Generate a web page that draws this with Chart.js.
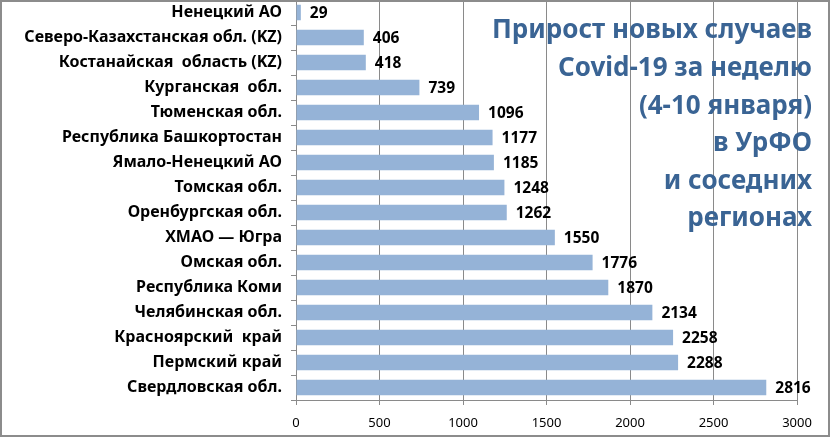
<!DOCTYPE html>
<html><head><meta charset="utf-8">
<script src="https://cdn.jsdelivr.net/npm/chart.js@4/dist/chart.umd.min.js"></script>
<style>html,body{margin:0;padding:0;background:#fff}#wrap{width:830px;height:437px;position:relative}</style>
</head><body><div id="wrap"><canvas id="c" width="830" height="437"></canvas></div>
<script>
const categories = ["Ненецкий АО","Северо-Казахстанская обл. (KZ)","Костанайская  область (KZ)","Курганская  обл.","Тюменская обл.","Республика Башкортостан","Ямало-Ненецкий АО","Томская обл.","Оренбургская обл.","ХМАО — Югра","Омская обл.","Республика Коми","Челябинская обл.","Красноярский  край","Пермский край","Свердловская обл."];
const values = [29,406,418,739,1096,1177,1185,1248,1262,1550,1776,1870,2134,2258,2288,2816];
const xTicks = [0,500,1000,1500,2000,2500,3000];
const titleLines = ["Прирост новых случаев","Covid-19 за неделю","(4-10 января)","в УрФО","и соседних","регионах"];

const FONT = "'Noto Sans', 'Open Sans', sans-serif";

const labelsPlugin = {
  id: 'vals',
  afterDatasetsDraw(chart) {
    const ctx = chart.ctx;
    const meta = chart.getDatasetMeta(0);
    ctx.save();
    ctx.font = "bold 15.5px " + FONT;
    ctx.fillStyle = "#000";
    ctx.textAlign = "left";
    ctx.textBaseline = "middle";
    meta.data.forEach((bar, i) => {
      ctx.fillText(String(values[i]), bar.x + 9, bar.y + 1);
    });
    ctx.restore();
  }
};
const titlePlugin = {
  id: 'ttl',
  afterDraw(chart) {
    const ctx = chart.ctx;
    ctx.save();
    ctx.font = "bold 26px " + FONT;
    ctx.fillStyle = "#3A6494";
    ctx.textAlign = "right";
    ctx.textBaseline = "middle";
    titleLines.forEach((t, i) => ctx.fillText(t, 812, 31 + i * 37.6));
    ctx.restore();
  }
};
const borderPlugin = {
  id: 'brd',
  beforeDraw(chart) {
    const ctx = chart.ctx;
    ctx.save();
    ctx.fillStyle = "#fff";
    ctx.fillRect(0, 0, 830, 437);
    ctx.restore();
  },
  afterDraw(chart) {
    const ctx = chart.ctx;
    ctx.save();
    ctx.strokeStyle = "#8c8c8c";
    ctx.lineWidth = 2;
    ctx.strokeRect(1, 1, 828, 435);
    ctx.restore();
  }
};

new Chart(document.getElementById('c'), {
  type: 'bar',
  data: {
    labels: categories,
    datasets: [{ data: values, backgroundColor: '#95B3D7', borderWidth: 0, barPercentage: 0.62, categoryPercentage: 1 }]
  },
  options: {
    indexAxis: 'y',
    responsive: false,
    animation: false,
    layout: { padding: { left: 0, right: 33, top: 0, bottom: 0 } },
    plugins: { legend: { display: false }, tooltip: { enabled: false } },
    scales: {
      x: {
        min: 0, max: 3000,
        afterBuildTicks(s) { s.ticks = xTicks.map(v => ({ value: v })); },
        ticks: { font: { family: FONT, size: 13 }, color: '#000', padding: 10, maxRotation: 0, callback: v => String(v) },
        grid: { color: '#8a8a8a', lineWidth: 1, drawTicks: true, tickLength: 5, tickColor: '#8a8a8a' },
        border: { display: true, color: '#8a8a8a', width: 1 },
        afterFit(s) { s.height = 37; s.paddingLeft = 0; }
      },
      y: {
        ticks: { font: { family: FONT, size: 16, weight: 'bold' }, color: '#000', padding: 9, autoSkip: false },
        grid: { drawOnChartArea: false, drawTicks: true, tickLength: 5, color: '#8a8a8a', offset: true },
        border: { display: true, color: '#8a8a8a', width: 1 },
        afterFit(s) { s.width = 296; s.paddingTop = 0; s.paddingBottom = 0; }
      }
    }
  },
  plugins: [borderPlugin, labelsPlugin, titlePlugin]
});
</script></body></html>
